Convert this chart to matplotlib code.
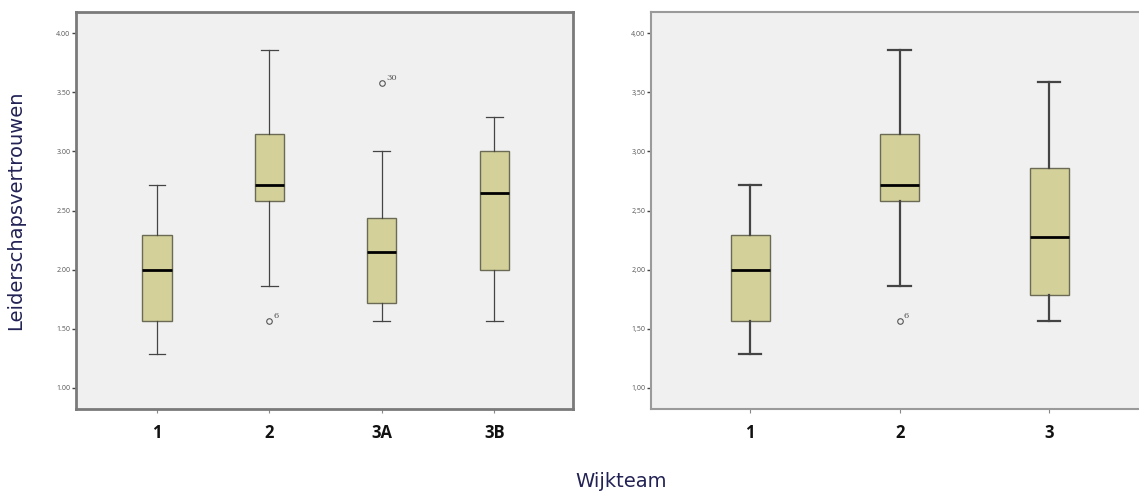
import matplotlib.pyplot as plt

# Left panel: Wijkteam 1, 2, 3A, 3B
teams_a = ["1", "2", "3A", "3B"]
whislo_a = [1.29, 1.86, 1.57, 1.57]
q1_a = [1.57, 2.58, 1.72, 2.00]
med_a = [2.00, 2.72, 2.15, 2.65]
q3_a = [2.29, 3.15, 2.44, 3.00]
whishi_a = [2.72, 3.86, 3.00, 3.29]
fliers_a = [[], [1.57], [3.58], []]
flier_ids_a = [[], ["6"], ["30"], []]

# Right panel: Wijkteam 1, 2, 3
teams_b = ["1", "2", "3"]
whislo_b = [1.29, 1.86, 1.57]
q1_b = [1.57, 2.58, 1.79]
med_b = [2.00, 2.72, 2.28]
q3_b = [2.29, 3.15, 2.86]
whishi_b = [2.72, 3.86, 3.59]
fliers_b = [[], [1.57], []]
flier_ids_b = [[], ["6"], []]

yticks = [1.0, 1.5, 2.0, 2.5, 3.0, 3.5, 4.0]

plt.rcParams['font.family'] = ['Open Sans', 'DejaVu Sans']

box_color = "#d4d09a"
bg_color = "#f0f0f0"


def make_stats(teams, lo, q1, med, q3, hi, fl):
    stats = []
    for i in range(len(teams)):
        stats.append({"label": teams[i], "whislo": lo[i], "q1": q1[i], "med": med[i],
                      "q3": q3[i], "whishi": hi[i], "fliers": fl[i]})
    return stats


def draw_panel(ax, teams, lo, q1, med, q3, hi, fl, ids, dec, spine_col, spine_w, whisker_w):
    stats = make_stats(teams, lo, q1, med, q3, hi, fl)
    pos = list(range(1, len(teams) + 1))
    ax.bxp(stats, positions=pos, widths=0.26, patch_artist=True,
           boxprops=dict(facecolor=box_color, edgecolor="#6b6b55", linewidth=1.0),
           medianprops=dict(color="black", linewidth=2),
           whiskerprops=dict(color="#444444", linewidth=whisker_w),
           capprops=dict(color="#444444", linewidth=whisker_w),
           flierprops=dict(marker="o", markersize=4, markerfacecolor="none",
                           markeredgecolor="#555555", markeredgewidth=0.8),
           capwidths=0.15)
    # outlier case numbers
    for p, vals, labs in zip(pos, fl, ids):
        for v, lab in zip(vals, labs):
            ax.annotate(lab, (p, v), xytext=(3, 2), textcoords="offset points",
                        fontsize=6, color="#555555", family="DejaVu Serif")
    ax.set_facecolor(bg_color)
    ax.set_ylim(0.82, 4.18)
    ax.set_yticks(yticks)
    labels = ["%.2f" % t for t in yticks]
    if dec == ",":
        labels = [s.replace(".", ",") for s in labels]
    ax.set_yticklabels(labels, fontsize=5, color="#555555")
    ax.set_xticks(pos)
    ax.set_xticklabels(teams, fontsize=12, fontweight="bold", color="#111111")
    ax.tick_params(axis="y", length=3, width=1, color="#444444", pad=1)
    ax.tick_params(axis="x", length=3, width=0.8, color="#888888", pad=8)
    for s in ax.spines.values():
        s.set_color(spine_col)
        s.set_linewidth(spine_w)


fig = plt.figure(figsize=(11.39, 4.96), dpi=100)

ax1 = fig.add_axes([0.0667, 0.175, 0.4364, 0.801])
draw_panel(ax1, teams_a, whislo_a, q1_a, med_a, q3_a, whishi_a, fliers_a, flier_ids_a,
           ".", "#7a7a7a", 2.0, 0.9)
ax1.set_xlim(0.28, 4.70)
ax1.set_ylabel("Leiderschapsvertrouwen", fontsize=14, color="#222255", labelpad=22,
               family="DejaVu Sans")

ax2 = fig.add_axes([0.5716, 0.175, 0.4284, 0.801])
draw_panel(ax2, teams_b, whislo_b, q1_b, med_b, q3_b, whishi_b, fliers_b, flier_ids_b,
           ",", "#9a9a9a", 1.5, 1.6)
ax2.set_xlim(0.338, 3.60)
ax2.spines["right"].set_visible(False)

fig.text(0.545, 0.018, "Wijkteam", fontsize=14, color="#222255", ha="center",
         family="DejaVu Sans")

fig.savefig("out.png", dpi=100)
